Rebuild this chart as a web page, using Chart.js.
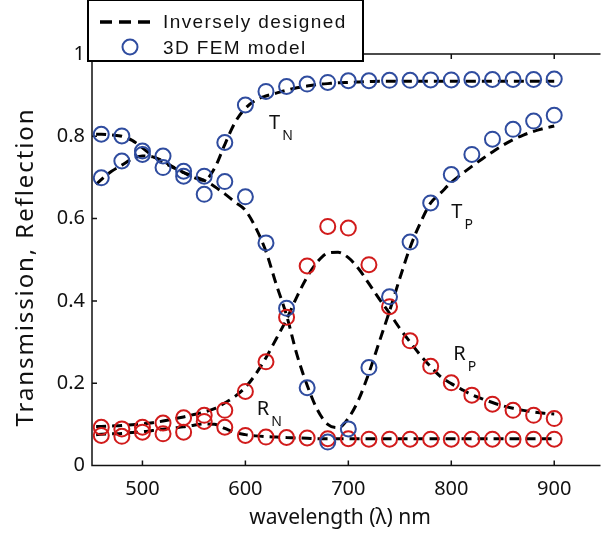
<!DOCTYPE html>
<html>
<head>
<meta charset="utf-8">
<script src="https://cdn.jsdelivr.net/npm/chart.js@4"></script>
<style>
  html, body { margin: 0; padding: 0; background: #fff; }
</style>
</head>
<body>
<canvas id="chart" width="608" height="537"></canvas>
<script>
/* ---- 3D FEM model (circles) ---- */
const femLambda = [460, 480, 500, 520, 540, 560, 580, 600, 620, 640, 660, 680, 700, 720, 740, 760, 780, 800, 820, 840, 860, 880, 900];
const femTN = [0.699, 0.740, 0.764, 0.724, 0.703, 0.703, 0.785, 0.876, 0.909, 0.921, 0.927, 0.931, 0.935, 0.935, 0.936, 0.936, 0.937, 0.937, 0.938, 0.938, 0.938, 0.938, 0.939];
const femTP = [0.805, 0.801, 0.756, 0.752, 0.715, 0.659, 0.690, 0.653, 0.541, 0.382, 0.189, 0.057, 0.089, 0.238, 0.410, 0.543, 0.638, 0.707, 0.756, 0.793, 0.817, 0.837, 0.851];
const femRN = [0.073, 0.071, 0.081, 0.077, 0.081, 0.107, 0.093, 0.073, 0.069, 0.068, 0.067, 0.065, 0.065, 0.064, 0.064, 0.064, 0.064, 0.064, 0.064, 0.064, 0.064, 0.064, 0.064];
const femRP = [0.093, 0.089, 0.093, 0.103, 0.116, 0.122, 0.134, 0.180, 0.252, 0.360, 0.485, 0.581, 0.577, 0.488, 0.386, 0.303, 0.241, 0.201, 0.171, 0.149, 0.134, 0.122, 0.114];

/* ---- Inversely designed (dashed curves) ---- */
const curveLambda = [455, 460, 470, 480, 490, 500, 510, 520, 530, 540, 550, 560, 570, 580, 590, 600, 610, 620, 630, 640, 650, 660, 670, 680, 690, 700, 710, 720, 730, 740, 750, 760, 770, 780, 790, 800, 810, 820, 830, 840, 850, 860, 870, 880, 890, 900];
const curveTN = [0.683, 0.695, 0.715, 0.730, 0.745, 0.752, 0.750, 0.740, 0.725, 0.712, 0.700, 0.693, 0.722, 0.780, 0.834, 0.868, 0.888, 0.898, 0.905, 0.912, 0.918, 0.922, 0.926, 0.928, 0.930, 0.931, 0.932, 0.933, 0.934, 0.934, 0.934, 0.934, 0.934, 0.934, 0.934, 0.934, 0.934, 0.934, 0.934, 0.934, 0.934, 0.934, 0.934, 0.934, 0.934, 0.934];
const curveTP = [0.805, 0.805, 0.803, 0.800, 0.790, 0.772, 0.752, 0.737, 0.724, 0.712, 0.703, 0.693, 0.678, 0.660, 0.640, 0.620, 0.578, 0.520, 0.440, 0.365, 0.270, 0.195, 0.135, 0.100, 0.092, 0.115, 0.160, 0.225, 0.300, 0.375, 0.455, 0.530, 0.590, 0.638, 0.663, 0.688, 0.708, 0.727, 0.745, 0.762, 0.778, 0.792, 0.803, 0.812, 0.819, 0.825];
const curveRN = [0.075, 0.076, 0.077, 0.078, 0.080, 0.082, 0.085, 0.088, 0.091, 0.094, 0.098, 0.101, 0.100, 0.090, 0.080, 0.075, 0.072, 0.070, 0.069, 0.068, 0.067, 0.066, 0.065, 0.065, 0.065, 0.065, 0.065, 0.065, 0.065, 0.065, 0.065, 0.065, 0.065, 0.065, 0.065, 0.065, 0.065, 0.065, 0.065, 0.065, 0.065, 0.065, 0.065, 0.065, 0.065, 0.065];
const curveRP = [0.095, 0.095, 0.096, 0.097, 0.099, 0.101, 0.104, 0.108, 0.113, 0.118, 0.124, 0.130, 0.138, 0.152, 0.168, 0.190, 0.222, 0.262, 0.308, 0.355, 0.410, 0.458, 0.495, 0.516, 0.518, 0.505, 0.478, 0.442, 0.405, 0.370, 0.333, 0.300, 0.268, 0.240, 0.215, 0.199, 0.185, 0.172, 0.162, 0.153, 0.145, 0.139, 0.134, 0.130, 0.127, 0.125];

const xTicks = [500, 600, 700, 800, 900];
const yTicks = [0, 0.2, 0.4, 0.6, 0.8, 1];

/* curve labels: main letter, subscript, anchor (lambda, value) */
const curveLabels = [
  { main: 'T', sub: 'N', x: 623, y: 0.817 },
  { main: 'T', sub: 'P', x: 800, y: 0.602 },
  { main: 'R', sub: 'P', x: 802, y: 0.256 },
  { main: 'R', sub: 'N', x: 611, y: 0.122 },
];

const BLUE = '#2f4c9f';
const RED  = '#d11b1b';
const FONT = '"Noto Sans", "Open Sans", sans-serif';

const pts = (xs, ys) => xs.map((x, i) => ({ x, y: ys[i] }));

const dashed = (data) => ({
  type: 'line',
  data,
  borderColor: '#000',
  borderWidth: 3,
  borderDash: [10, 6],
  pointRadius: 0,
  cubicInterpolationMode: 'monotone',
  fill: false,
  order: 2,
});

const circles = (data, color) => ({
  type: 'scatter',
  data,
  showLine: false,
  pointStyle: 'circle',
  pointRadius: 7.5,
  pointBorderWidth: 2,
  pointBorderColor: color,
  pointBackgroundColor: 'rgba(0,0,0,0)',
  clip: false,
  order: 1,
});

/* axes frame with inward ticks (matlab style) */
const framePlugin = {
  id: 'frame',
  beforeDatasetsDraw(chart) {
    const { ctx, chartArea: a, scales: { x, y } } = chart;
    ctx.save();
    ctx.strokeStyle = '#111';
    ctx.lineWidth = 1.5;
    ctx.beginPath();
    ctx.moveTo(a.left, a.top); ctx.lineTo(a.right + 2, a.top);
    ctx.moveTo(a.left, a.top); ctx.lineTo(a.left, a.bottom);
    ctx.lineTo(a.right + 2, a.bottom);
    xTicks.forEach(v => {
      const px = x.getPixelForValue(v);
      ctx.moveTo(px, a.bottom); ctx.lineTo(px, a.bottom - 5);
      ctx.moveTo(px, a.top); ctx.lineTo(px, a.top + 5);
    });
    yTicks.forEach(v => {
      const py = y.getPixelForValue(v);
      ctx.moveTo(a.left, py); ctx.lineTo(a.left + 5, py);
    });
    ctx.stroke();
    ctx.restore();
  },
  afterDraw(chart) {
    const { ctx, scales: { x, y } } = chart;
    ctx.save();

    // curve labels with subscripts
    ctx.fillStyle = '#111';
    ctx.textBaseline = 'alphabetic';
    curveLabels.forEach(l => {
      const px = x.getPixelForValue(l.x), py = y.getPixelForValue(l.y);
      ctx.font = '20px ' + FONT;
      ctx.fillText(l.main, px, py);
      const w = ctx.measureText(l.main).width;
      ctx.font = '14px ' + FONT;
      ctx.fillText(l.sub, px + w + 2, py + 11);
    });

    // axis titles
    ctx.font = '21px ' + FONT;
    ctx.textAlign = 'center';
    ctx.textBaseline = 'middle';
    ctx.fillText('wavelength (\u03bb) nm', 340, 518);
    ctx.save();
    ctx.translate(26, 267);
    ctx.rotate(-Math.PI / 2);
    ctx.font = '24px ' + FONT;
    ctx.letterSpacing = '1.9px';
    ctx.fillText('Transmission, Reflection', 0, 0);
    ctx.restore();

    // legend box
    ctx.fillStyle = '#fff';
    ctx.fillRect(88, 0, 275, 61);
    ctx.strokeStyle = '#000';
    ctx.lineWidth = 2;
    ctx.strokeRect(88, 0, 275, 61);
    ctx.beginPath();
    ctx.setLineDash([12, 7]);
    ctx.lineWidth = 3.5;
    ctx.moveTo(100, 22); ctx.lineTo(157, 22);
    ctx.stroke();
    ctx.setLineDash([]);
    ctx.beginPath();
    ctx.strokeStyle = BLUE;
    ctx.lineWidth = 2;
    ctx.arc(130, 47, 7.5, 0, Math.PI * 2);
    ctx.stroke();
    ctx.fillStyle = '#111';
    ctx.textAlign = 'left';
    ctx.textBaseline = 'alphabetic';
    ctx.font = '19px "Liberation Sans", Arial, sans-serif';
    ctx.letterSpacing = '1.4px';
    ctx.fillText('Inversely designed', 163, 28);
    ctx.fillText('3D FEM model', 163, 54);
    ctx.restore();
  },
};

new Chart(document.getElementById('chart'), {
  type: 'scatter',
  data: {
    datasets: [
      circles(pts(femLambda, femTN), BLUE),
      circles(pts(femLambda, femTP), BLUE),
      circles(pts(femLambda, femRN), RED),
      circles(pts(femLambda, femRP), RED),
      dashed(pts(curveLambda, curveTN)),
      dashed(pts(curveLambda, curveTP)),
      dashed(pts(curveLambda, curveRN)),
      dashed(pts(curveLambda, curveRP)),
    ],
  },
  options: {
    responsive: false,
    animation: false,
    layout: { padding: { top: 54, right: 0, left: 0, bottom: 0 } },
    plugins: { legend: { display: false }, tooltip: { enabled: false } },
    scales: {
      x: {
        type: 'linear',
        min: 451,
        max: 943,
        afterFit: s => { s.height = 71.5; },
        afterBuildTicks: s => { s.ticks = xTicks.map(v => ({ value: v })); },
        grid: { display: false, drawTicks: false },
        border: { display: false },
        ticks: { color: '#111', padding: 12, font: { family: FONT, size: 20 } },
      },
      y: {
        min: 0,
        max: 1,
        afterFit: s => { s.width = 92; },
        afterBuildTicks: s => { s.ticks = yTicks.map(v => ({ value: v })); },
        grid: { display: false, drawTicks: false },
        border: { display: false },
        ticks: {
          color: '#111', padding: 7, font: { family: FONT, size: 20 },
          callback: v => String(v),
        },
      },
    },
  },
  plugins: [framePlugin],
});
</script>
</body>
</html>
